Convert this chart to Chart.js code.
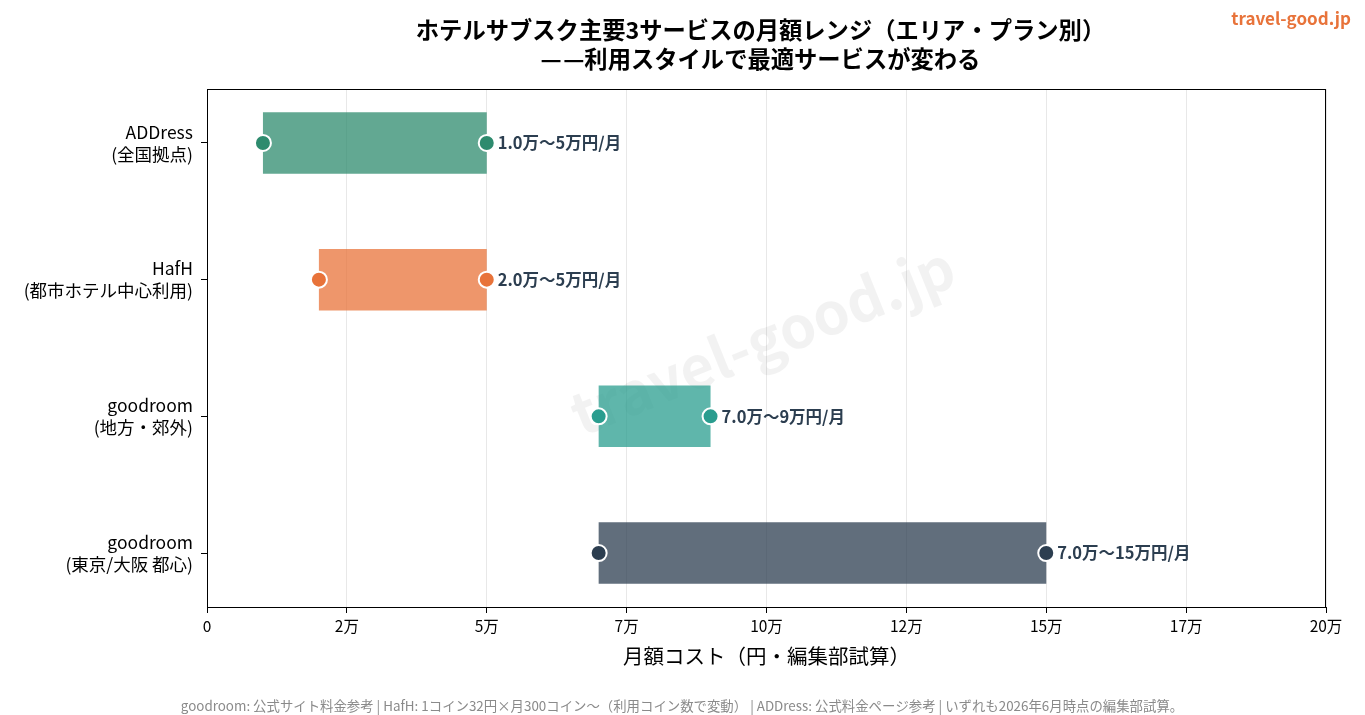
<!DOCTYPE html>
<html>
<head>
<meta charset="utf-8">
<script src="https://cdn.jsdelivr.net/npm/chart.js@4"></script>
<style>
  html, body { margin: 0; padding: 0; background: #fff; }
  #wrap { width: 1365px; height: 715px; }
</style>
</head>
<body>
<div id="wrap"><canvas id="rangeChart" width="1365" height="715"></canvas></div>
<script>
// data
var services = [["ADDress", "(全国拠点)"], ["HafH", "(都市ホテル中心利用)"], ["goodroom", "(地方・郊外)"], ["goodroom", "(東京/大阪 都心)"]];
var minCost = [10000, 20000, 70000, 70000];
var maxCost = [50000, 50000, 90000, 150000];
var rangeLabels = ["1.0万〜5万円/月", "2.0万〜5万円/月", "7.0万〜9万円/月", "7.0万〜15万円/月"];
var xTickLabels = ["0", "2万", "5万", "7万", "10万", "12万", "15万", "17万", "20万"];

var dotColors = ["#2e8b6e", "#e8733a", "#2a9d8f", "#2c3e50"];
var barColors = ["rgba(46,139,110,0.75)", "rgba(232,115,58,0.75)", "rgba(42,157,143,0.75)", "rgba(44,62,80,0.75)"];

var FONT = "'Noto Sans CJK JP', 'Noto Sans', sans-serif";
Chart.defaults.font.family = FONT;
Chart.defaults.color = "#000";

// extra drawing: frame, watermark, titles, labels, note
var decor = {
  id: "decor",
  beforeDatasetsDraw: function (chart) {
    var ctx = chart.ctx, a = chart.chartArea;
    ctx.save();
    ctx.translate((a.left + a.right) / 2 - 4, (a.top + a.bottom) / 2 - 8);
    ctx.rotate(-22 * Math.PI / 180);
    ctx.font = "bold 58px " + FONT;
    ctx.fillStyle = "rgba(0,0,0,0.05)";
    ctx.textAlign = "center";
    ctx.textBaseline = "middle";
    ctx.fillText("travel-good.jp", 0, 0);
    ctx.restore();
  },
  afterDatasetsDraw: function (chart) {
    var ctx = chart.ctx;
    var xs = chart.scales.x, ys = chart.scales.y;
    ctx.save();
    ctx.font = "bold 16.5px " + FONT;
    ctx.fillStyle = "#2c3e50";
    ctx.textAlign = "left";
    ctx.textBaseline = "middle";
    rangeLabels.forEach(function (t, i) {
      ctx.fillText(t, xs.getPixelForValue(maxCost[i]) + 11, ys.getPixelForValue(i));
    });
    ctx.restore();
  },
  afterDraw: function (chart) {
    var ctx = chart.ctx, a = chart.chartArea;
    ctx.save();
    ctx.strokeStyle = "#000";
    ctx.lineWidth = 1;
    ctx.strokeRect(a.left + 0.5, a.top + 0.5, a.right - a.left - 1, a.bottom - a.top);
    var cx = (a.left + a.right) / 2 - 6;
    ctx.fillStyle = "#000";
    ctx.font = "bold 23.3px " + FONT;
    ctx.textAlign = "center";
    ctx.textBaseline = "middle";
    ctx.fillText("ホテルサブスク主要3サービスの月額レンジ（エリア・プラン別）", cx, 30);
    ctx.fillText("—\u200A—利用スタイルで最適サービスが変わる", cx, 59);
    ctx.font = "bold 17px " + FONT;
    ctx.fillStyle = "#e8733a";
    ctx.textAlign = "right";
    ctx.fillText("travel-good.jp", 1351, 19);
    ctx.font = "13.4px " + FONT;
    ctx.fillStyle = "#8a8a8a";
    ctx.textAlign = "center";
    ctx.fillText("goodroom: 公式サイト料金参考 | HafH: 1コイン32円×月300コイン〜（利用コイン数で変動） | ADDress: 公式料金ページ参考 | いずれも2026年6月時点の編集部試算。", 682, 706);
    ctx.restore();
  }
};

var ctxR = document.getElementById("rangeChart").getContext("2d");
var rangeChart = new Chart(ctxR, {
  type: "bar",
  data: {
    datasets: [
      {
        type: "line",
        label: "min",
        data: minCost.map(function (v, i) { return { x: v, y: i }; }),
        showLine: false,
        pointRadius: 8,
        pointHoverRadius: 8,
        pointBackgroundColor: dotColors,
        pointBorderColor: "#fff",
        pointBorderWidth: 2,
        order: 0
      },
      {
        type: "line",
        label: "max",
        data: maxCost.map(function (v, i) { return { x: v, y: i }; }),
        showLine: false,
        pointRadius: 8,
        pointHoverRadius: 8,
        pointBackgroundColor: dotColors,
        pointBorderColor: "#fff",
        pointBorderWidth: 2,
        order: 0
      },
      {
        label: "range",
        data: minCost.map(function (v, i) { return { x: [v, maxCost[i]], y: i }; }),
        backgroundColor: barColors,
        borderWidth: 0,
        borderSkipped: false,
        categoryPercentage: 1,
        barPercentage: 0.45,
        order: 1
      }
    ]
  },
  options: {
    indexAxis: "y",
    responsive: false,
    animation: false,
    layout: { padding: { top: 89, right: 39, bottom: 46, left: 0 } },
    plugins: {
      legend: { display: false },
      tooltip: { enabled: false },
      title: { display: false }
    },
    scales: {
      x: {
        type: "linear",
        min: 0,
        max: 200000,
        afterFit: function (s) { s.height = 62; },
        afterBuildTicks: function (s) {
          s.ticks = xTickLabels.map(function (l, i) { return { value: i * 25000 }; });
        },
        ticks: {
          font: { size: 15.5 },
          color: "#000",
          padding: 4,
          callback: function (v, i) { return xTickLabels[i]; }
        },
        grid: { color: "#e8e8e8", tickColor: "#000", tickLength: 6 },
        border: { color: "#000" },
        title: {
          display: true,
          text: "月額コスト（円・編集部試算）",
          font: { size: 20.5 },
          color: "#000",
          padding: { top: 0, bottom: 0 }
        }
      },
      y: {
        type: "linear",
        reverse: true,
        offset: false,
        min: -0.395,
        max: 3.395,
        afterFit: function (s) { s.width = 207; },
        afterBuildTicks: function (s) {
          s.ticks = services.map(function (l, i) { return { value: i }; });
        },
        ticks: {
          font: { size: 17.5, lineHeight: 1.25 },
          color: "#000",
          padding: 8,
          callback: function (v) { return services[v]; }
        },
        grid: { offset: false, drawOnChartArea: false, tickColor: "#000", tickLength: 6 },
        border: { color: "#000" }
      }
    }
  },
  plugins: [decor]
});
</script>
</body>
</html>
